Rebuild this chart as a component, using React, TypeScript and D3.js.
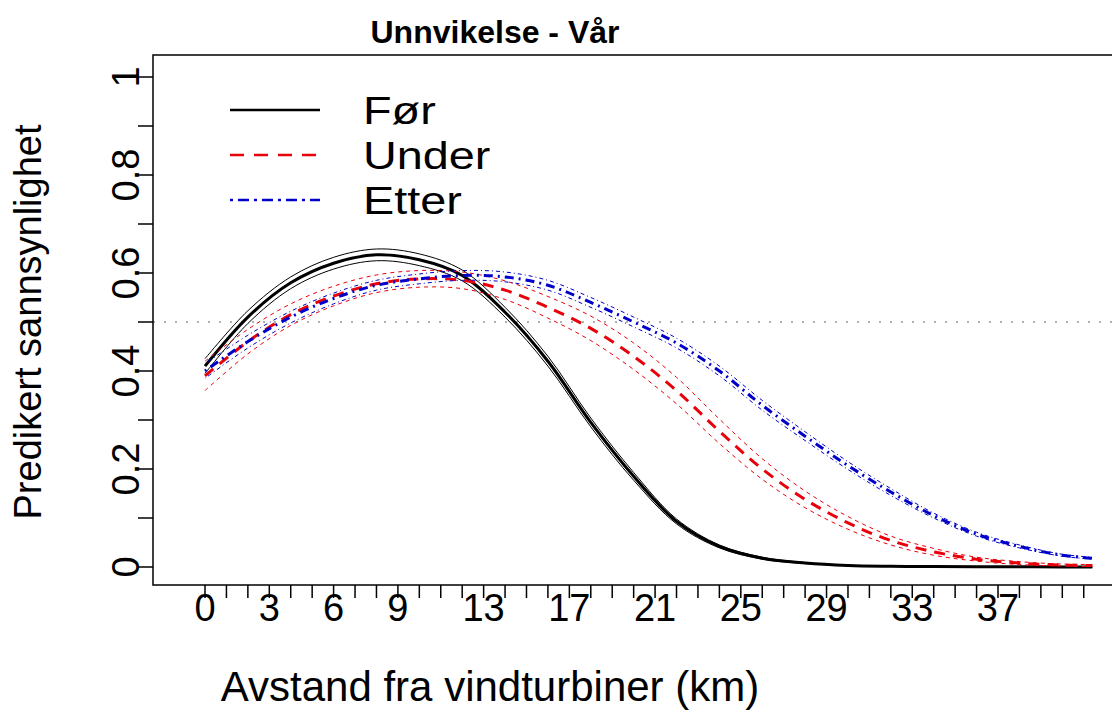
import * as d3 from 'd3';

const km = [0, 2, 4, 6, 8, 10, 12, 14, 16, 18, 20, 22, 24, 26, 28, 30, 32, 34, 36, 38, 40, 41.4];

const forMid = [0.41, 0.51, 0.58, 0.62, 0.637, 0.627, 0.595, 0.52, 0.42, 0.295, 0.185, 0.093, 0.042, 0.018, 0.008, 0.003, 0.0015, 0.001, 0.0005, 0.0003, 0.0002, 0.0002];
const forLo = [0.395, 0.497, 0.568, 0.608, 0.625, 0.615, 0.584, 0.51, 0.41, 0.286, 0.177, 0.088, 0.039, 0.016, 0.007, 0.0025, 0.001, 0.0008, 0.0004, 0.0002, 0.0001, 0.0001];
const forHi = [0.425, 0.523, 0.592, 0.632, 0.649, 0.639, 0.606, 0.53, 0.43, 0.304, 0.193, 0.098, 0.045, 0.02, 0.009, 0.0035, 0.002, 0.0012, 0.0006, 0.0004, 0.0003, 0.0003];

const underMid = [0.39, 0.46, 0.515, 0.553, 0.578, 0.588, 0.585, 0.565, 0.53, 0.487, 0.43, 0.36, 0.277, 0.2, 0.138, 0.09, 0.054, 0.031, 0.016, 0.008, 0.004, 0.003];
const underLo = [0.36, 0.435, 0.493, 0.533, 0.56, 0.571, 0.568, 0.546, 0.508, 0.462, 0.403, 0.333, 0.252, 0.179, 0.121, 0.077, 0.045, 0.024, 0.012, 0.005, 0.002, 0.001];
const underHi = [0.42, 0.485, 0.537, 0.573, 0.596, 0.605, 0.602, 0.584, 0.552, 0.512, 0.457, 0.387, 0.302, 0.221, 0.155, 0.103, 0.063, 0.038, 0.02, 0.011, 0.006, 0.005];

const etterMid = [0.4, 0.46, 0.51, 0.548, 0.575, 0.588, 0.595, 0.592, 0.575, 0.54, 0.5, 0.457, 0.4, 0.33, 0.267, 0.207, 0.153, 0.105, 0.067, 0.042, 0.024, 0.018];
const etterLo = [0.385, 0.447, 0.498, 0.537, 0.565, 0.578, 0.585, 0.582, 0.565, 0.53, 0.49, 0.447, 0.39, 0.32, 0.258, 0.199, 0.146, 0.1, 0.063, 0.039, 0.022, 0.016];
const etterHi = [0.415, 0.473, 0.522, 0.559, 0.585, 0.598, 0.605, 0.602, 0.585, 0.55, 0.51, 0.467, 0.41, 0.34, 0.276, 0.215, 0.16, 0.11, 0.071, 0.045, 0.026, 0.02];

const xTicks = d3.range(0, 42);
const xLabels = [0, 3, 6, 9, 13, 17, 21, 25, 29, 33, 37];
const yTicks = d3.range(0, 11).map(i => i / 10);
const yLabels = [0, 0.2, 0.4, 0.6, 0.8, 1];

const legendItems = ['Før', 'Under', 'Etter'];

const FONT = 'Liberation Sans, Arial, sans-serif';

export default function App() {
  const width = 1112;
  const height = 713;

  const x = d3.scaleLinear().domain([0, 37]).range([205, 998]);
  const y = d3.scaleLinear().domain([0, 1]).range([567, 77]);

  const box = { left: 153, top: 55, bottom: 585, right: 1200 };

  const line = (vals: number[]) =>
    d3.line<number>()
      .x((_, i) => x(km[i]))
      .y(d => y(d))
      .curve(d3.curveCatmullRom)(vals) || '';

  const series = [
    { name: 'Før', mid: forMid, lo: forLo, hi: forHi, color: '#000000', dashMid: 'none', dashCi: 'none', dashLeg: 'none' },
    { name: 'Under', mid: underMid, lo: underLo, hi: underHi, color: '#e8000b', dashMid: '11 8', dashCi: '4 4', dashLeg: '14 10' },
    { name: 'Etter', mid: etterMid, lo: etterLo, hi: etterHi, color: '#0000c8', dashMid: '2 5 9 5', dashCi: '1 3 4 3', dashLeg: '3 5 11 5' },
  ];

  return (
    <svg width={width} height={height} style={{ position: 'absolute', left: 0, top: 0, background: '#fff' }}>
      {/* title */}
      <text x={495} y={43} textAnchor="middle" fontFamily={FONT} fontWeight="bold" fontSize={32} fill="#000">
        Unnvikelse - Vår
      </text>

      {/* reference line at 0.5 */}
      <line x1={box.left} x2={width} y1={y(0.5)} y2={y(0.5)} stroke="#b0b0b0" strokeWidth={2} strokeDasharray="2 9" />

      {/* curves: confidence bands then centre lines */}
      {series.map(s => (
        <g key={s.name}>
          <path d={line(s.lo)} fill="none" stroke={s.color} strokeWidth={1} strokeDasharray={s.dashCi} />
          <path d={line(s.hi)} fill="none" stroke={s.color} strokeWidth={1} strokeDasharray={s.dashCi} />
          <path d={line(s.mid)} fill="none" stroke={s.color} strokeWidth={3} strokeDasharray={s.dashMid} />
        </g>
      ))}

      {/* plot box */}
      <rect x={box.left} y={box.top} width={box.right - box.left} height={box.bottom - box.top} fill="none" stroke="#000" strokeWidth={1.5} />

      {/* y axis */}
      {yTicks.map(t => (
        <line key={'yt' + t} x1={box.left - 15} x2={box.left} y1={y(t)} y2={y(t)} stroke="#000" strokeWidth={1.5} />
      ))}
      {yLabels.map(t => (
        <text key={'yl' + t} transform={`translate(${139},${y(t)}) rotate(-90)`} textAnchor="middle"
          fontFamily={FONT} fontSize={38} fill="#000">
          {String(t)}
        </text>
      ))}
      <text transform={`translate(${41},${y(0.5)}) rotate(-90)`} textAnchor="middle" fontFamily={FONT} fontSize={38} fill="#000">
        Predikert sannsynlighet
      </text>

      {/* x axis */}
      {xTicks.map(t => (
        <line key={'xt' + t} x1={x(t)} x2={x(t)} y1={box.bottom} y2={box.bottom + 13} stroke="#000" strokeWidth={1.5} />
      ))}
      {xLabels.map(t => (
        <text key={'xl' + t} x={x(t)} y={621} textAnchor="middle" fontFamily={FONT} fontSize={38} fill="#000">
          {String(t)}
        </text>
      ))}
      <text x={490} y={701} textAnchor="middle" fontFamily={FONT} fontSize={42} fill="#000">
        Avstand fra vindturbiner (km)
      </text>

      {/* legend */}
      {series.map((s, i) => (
        <g key={'lg' + s.name} transform={`translate(0,${110 + i * 45})`}>
          <line x1={230} x2={320} y1={0} y2={0} stroke={s.color} strokeWidth={2.5} strokeDasharray={s.dashLeg} />
          <text transform="translate(363,14) scale(1.2,1)" fontFamily={FONT} fontSize={39} fill="#000">{legendItems[i]}</text>
        </g>
      ))}
    </svg>
  );
}
